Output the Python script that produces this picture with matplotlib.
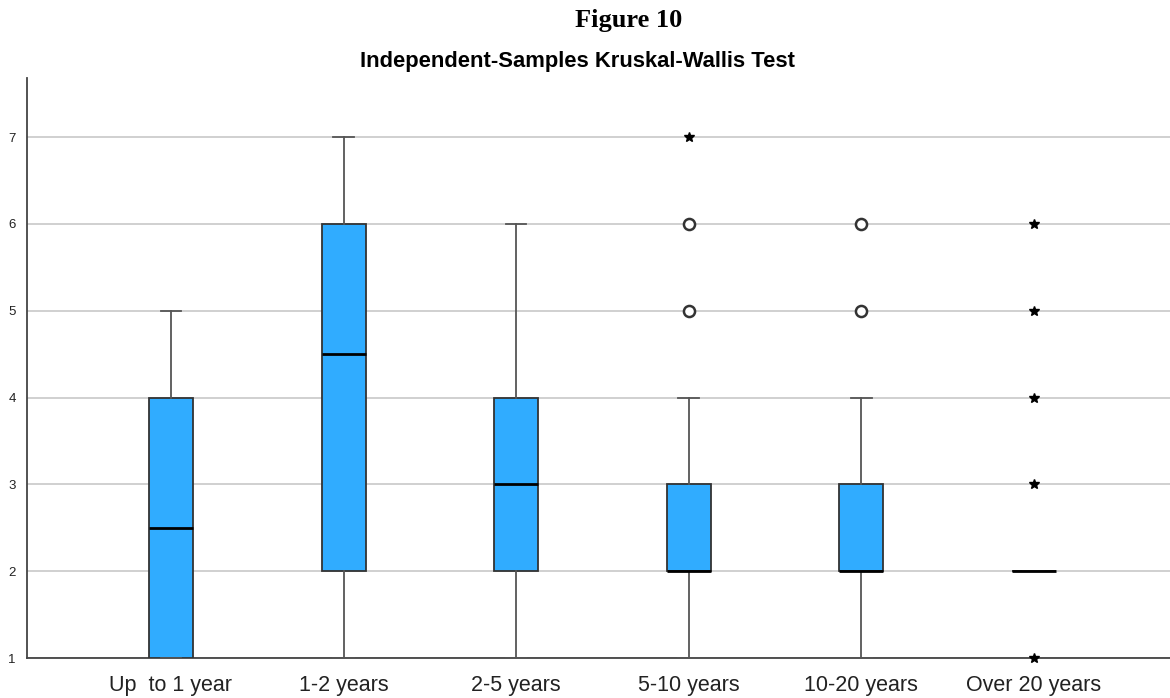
import numpy as np
import matplotlib
matplotlib.use('Agg')
import matplotlib.pyplot as plt

groups = ['Up  to 1 year', '1-2 years', '2-5 years', '5-10 years', '10-20 years', 'Over 20 years']
whisker_lo = [1, 1, 1, 1, 1, 2]
q1 = [1, 2, 2, 2, 2, 2]
median = [2.5, 4.5, 3, 2, 2, 2]
q3 = [4, 6, 4, 3, 3, 2]
whisker_hi = [5, 7, 6, 4, 4, 2]
# outliers (circles) and extremes (stars)
outliers = [[], [], [], [5, 6], [5, 6], []]
extremes = [[], [], [], [7], [], [1, 3, 4, 5, 6]]

box_color = '#30acff'
edge = '#333333'

fig = plt.figure(figsize=(11.7, 6.98), dpi=100)
ax = fig.add_axes([0.023, 0.0573, 0.977, 0.831])

stats = []
for i, g in enumerate(groups):
    stats.append(dict(label=g, whislo=whisker_lo[i], q1=q1[i], med=median[i],
                      q3=q3[i], whishi=whisker_hi[i], fliers=[]))

pos = np.arange(len(groups))
ax.bxp(stats, positions=pos, widths=0.255, patch_artist=True, showfliers=False,
       boxprops=dict(facecolor=box_color, edgecolor=edge, linewidth=1.3),
       medianprops=dict(color='black', linewidth=2),
       whiskerprops=dict(color='#555555', linewidth=1.3),
       capprops=dict(color='#555555', linewidth=1.3),
       capwidths=0.12, zorder=3)

for i in range(len(groups)):
    if outliers[i]:
        ax.plot([pos[i]] * len(outliers[i]), outliers[i], 'o', mfc='white',
                mec='#333333', mew=1.8, ms=8, zorder=4)
    if extremes[i]:
        ax.plot([pos[i]] * len(extremes[i]), extremes[i], '*', color='black',
                ms=7, zorder=4, clip_on=False)

ax.set_xlim(-0.835, 5.79)
ax.set_ylim(1, 7.68)
ax.set_yticks(range(1, 8))
ax.set_yticklabels([str(v) for v in range(1, 8)], fontsize=9.5, family='Liberation Sans',
                   color='#222222')
ax.set_xticks(pos)
ax.set_xticklabels(groups, fontsize=15.5, family='Liberation Sans', color='#222222')
ax.tick_params(axis='y', length=0, pad=8)
ax.tick_params(axis='x', length=0, pad=12)
ax.yaxis.grid(True, color='#c8c8c8', linewidth=1.2)
ax.set_axisbelow(True)
for s in ['top', 'right']:
    ax.spines[s].set_visible(False)
for s in ['left', 'bottom']:
    ax.spines[s].set_color('#444444')
    ax.spines[s].set_linewidth(1.3)

fig.text(0.537, 0.97, 'Figure 10', ha='center', va='center', fontsize=19,
         fontweight='bold', family='Liberation Serif')
fig.text(0.494, 0.912, 'Independent-Samples Kruskal-Wallis Test', ha='center',
         va='center', fontsize=15.8, fontweight='bold', family='Liberation Sans')

fig.savefig('out.png', dpi=100)
